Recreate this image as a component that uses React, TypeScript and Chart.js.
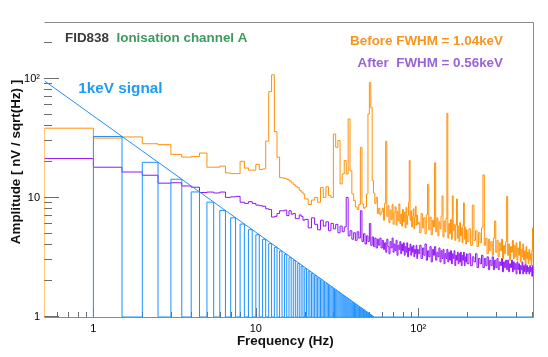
import React, { useEffect, useRef } from 'react';
import { Chart, registerables } from 'chart.js';

Chart.register(...registerables);

const FONT = '"Liberation Sans", Arial, Helvetica, sans-serif';

// ---- spectrum bins (left edges, Hz) ----
const lowFreq = [0.5, 1, 1.5, 2, 2.5, 3, 3.5, 4, 4.5, 5, 5.5, 6, 6.5, 7, 7.5, 8, 8.5, 9, 9.5, 10, 10.5, 11, 11.5, 12, 12.5, 13, 13.5, 14, 14.5, 15, 15.5, 16, 16.5, 17, 17.5, 18, 18.5, 19, 19.5];
const midFreq = [20, 21, 22, 23, 24, 25, 26, 27, 28, 29, 30, 31, 32, 33, 34, 35, 36, 37, 38, 39, 40, 41, 42, 43, 44, 45, 46, 47, 48, 49, 50, 51, 52, 53, 54, 55, 56, 57, 58, 59, 60, 61, 62, 63, 64, 65, 66, 67, 68, 69, 70, 71, 72, 73, 74, 75, 76, 77, 78, 79, 80, 81, 82, 83, 84, 85, 86, 87, 88, 89, 90, 91, 92, 93, 94, 95, 96, 97, 98, 99];
const highFreq = [100, 102, 104, 106, 108, 110, 112, 114, 116, 118, 120, 122, 124, 126, 128, 130, 132, 134, 136, 138, 140, 142, 144, 146, 148, 150, 152, 154, 156, 158, 160, 162, 164, 166, 168, 170, 172, 174, 176, 178, 180, 182, 184, 186, 188, 190, 192, 194, 196, 198,
  200, 205, 210, 215, 220, 225, 230, 235, 240, 245, 250, 255, 260, 265, 270, 275, 280, 285, 290, 295, 300, 305, 310, 315, 320, 325, 330, 335, 340, 345, 350, 355, 360, 365, 370, 375, 380, 385, 390, 395, 400, 405, 410, 415, 420, 425, 430, 435, 440, 445, 450, 455, 460, 465, 470, 475, 480, 485, 490, 495, 500, 505, 510];
const specEnd = 512;
const specFloor = 0.5;

// ---- Before (orange) ----
const beforeLow = [38.5, 31.8, 32.5, 28.5, 28.0, 23.2, 22.0, 22.3, 23.8, 18.1, 18.1, 18.5, 16.2, 16.0, 16.0, 20.3, 17.8, 17.1, 17.1, 19.1, 17.3, 17.5, 30, 78, 108, 36, 22, 14.8, 14.7, 14.6, 14.3, 13.9, 13.4, 12.9, 12.5, 12.2, 11.6, 11.2, 10.8];
const beforeMid = [9.8, 8.8, 9.6, 10.1, 9.2, 12.2, 10.1, 12.4, 10.5, 10.1, 34.4, 26.6, 30.3, 13.1, 15.9, 20.6, 15.9, 46, 16.9, 10.8, 9.5, 8.4, 8.0, 8.8, 26.6, 8.9, 8.2, 8.4, 10.8, 50.5, 93, 57.5, 14.0, 11.0, 9.0, 10.1, 7.4, 8.2, 7.2, 7.6,
  8.2, 6.5, 9.0, 29.9, 7.0, 8.6, 6.2, 7.9, 6.6, 8.8, 6.0, 7.5, 8.4, 5.9, 7.7, 6.4, 8.9, 6.1, 7.3, 5.8, 8.0, 6.3, 7.6, 5.6, 8.3, 6.0, 7.1, 9.2, 20.6, 6.5, 7.8, 5.7, 7.0, 8.1, 5.5, 6.9, 8.5, 5.9, 7.2, 6.0];
const beforeHigh = [6.2, 5.1, 7.4, 5.6, 6.8, 5.0, 7.2, 13.0, 5.4, 6.9, 4.9, 6.5, 5.7, 19.7, 5.2, 6.8, 4.8, 6.3, 5.5, 7.0, 10.4, 4.7, 6.4, 5.2, 6.7, 51.4, 4.6, 6.1, 5.0, 6.6, 4.5, 10.4, 5.3, 6.0, 4.4, 5.9, 9.8, 4.6, 5.8, 4.3, 6.2, 4.8, 5.6, 4.2, 5.9, 9.1, 4.5, 5.7, 4.1, 5.4,
  4.3, 5.5, 4.0, 8.7, 4.4, 5.3, 3.9, 5.1, 4.2, 5.6, 15.6, 4.0, 4.6, 3.4, 4.5, 3.6, 4.3, 3.3, 4.6, 6.4, 3.5, 4.4, 3.2, 4.2, 3.6, 4.5, 3.1, 4.0, 3.4, 4.3, 10.3, 3.3, 4.1, 3.0, 3.9, 3.5, 4.4, 3.1, 4.0, 3.2, 4.2, 3.0, 3.8, 3.3, 4.3, 2.9, 3.7, 3.2, 4.1, 3.0, 3.6, 2.8, 3.9, 3.1, 3.5, 2.8, 3.7, 3.0, 3.4, 2.7, 3.6, 5.6, 2.9];

// ---- After (purple) ----
const afterLow = [21.4, 18.1, 16.5, 15.5, 13.3, 13.4, 12.6, 12.3, 11.1, 11.2, 11.0, 11.2, 10.1, 10.2, 10.3, 9.2, 9.0, 9.3, 9.0, 8.7, 8.6, 8.5, 8.1, 8.0, 6.9, 7.0, 7.4, 7.8, 7.8, 7.9, 7.1, 7.8, 7.3, 7.4, 6.7, 6.7, 7.2, 7.0, 6.5];
const afterMid = [6.6, 5.6, 6.8, 6.0, 5.4, 6.5, 5.8, 6.3, 5.3, 6.1, 5.5, 6.0, 5.1, 5.8, 5.2, 5.7, 10.1, 4.8, 5.3, 4.5, 5.1, 4.4, 5.2, 4.6, 7.8, 4.3, 5.0, 4.1, 4.8, 4.3, 6.1, 4.0, 4.7, 3.9, 4.6, 3.8, 4.5, 4.0, 4.6, 3.8,
  4.4, 3.7, 4.2, 3.5, 4.5, 3.9, 3.4, 4.3, 3.8, 4.6, 3.5, 4.1, 3.6, 4.4, 3.3, 4.0, 3.7, 4.3, 3.4, 4.1, 3.6, 4.2, 3.3, 3.9, 3.5, 4.2, 3.2, 3.8, 3.6, 4.1, 3.3, 3.9, 3.5, 4.0, 3.2, 3.7, 3.4, 4.0, 3.1, 3.7];
const afterHigh = [3.4, 4.0, 3.1, 3.8, 3.3, 4.1, 3.0, 3.6, 3.2, 3.9, 2.9, 3.7, 3.3, 3.9, 3.0, 3.5, 3.2, 3.8, 2.9, 3.6, 3.1, 3.7, 2.8, 3.4, 3.1, 3.7, 2.9, 3.5, 3.0, 3.6, 2.8, 3.4, 3.1, 3.6, 2.7, 3.3, 3.0, 3.5, 2.8, 3.4, 2.9, 3.5, 2.7, 3.3, 3.0, 3.5, 2.7, 3.2, 2.9, 3.4,
  2.8, 3.4, 2.7, 3.2, 2.9, 3.4, 2.6, 3.1, 2.8, 3.3, 2.6, 3.1, 2.7, 3.2, 2.5, 3.0, 2.7, 3.2, 2.5, 3.0, 2.6, 3.1, 2.5, 2.9, 2.7, 3.1, 2.4, 2.9, 2.6, 3.0, 2.5, 3.0, 2.4, 2.8, 2.6, 3.0, 2.4, 2.9, 2.5, 2.8, 2.3, 2.9, 2.5, 2.8, 2.3, 2.7, 2.5, 2.9, 2.3, 2.7, 2.4, 2.8, 2.3, 2.7, 2.4, 2.6, 2.3, 2.7, 2.4, 2.6, 2.2, 2.7, 2.3];

// ---- 1 keV signal (blue) ----
const signalHarmonics = [1, 2, 3, 4, 5, 6, 7, 8, 9, 10, 11, 12, 13, 14, 15, 16, 17, 18, 19, 20, 21, 22, 23, 24, 25, 26, 27, 28, 29, 30, 31, 32, 33, 34, 35, 36, 37, 38, 39, 40, 41, 42, 43, 44, 45, 46, 47, 48, 49, 50, 51, 52, 53];
const signalAmp = [32.8, 19.9, 14.35, 11.22, 9.22, 7.83, 6.81, 6.03, 5.41, 4.90, 4.49, 4.13, 3.84, 3.58, 3.35, 3.15, 2.98, 2.82, 2.68, 2.55, 2.43, 2.33, 2.23, 2.14, 2.06, 1.98, 1.91, 1.85, 1.79, 1.73, 1.68, 1.63, 1.58, 1.53, 1.49, 1.45, 1.41, 1.38, 1.34, 1.31, 1.28, 1.25, 1.22, 1.20, 1.17, 1.15, 1.12, 1.10, 1.08, 1.06, 1.04, 1.02, 1.00];
const signalBinWidth = 0.5;
const signalBase = 1;
const signalLineFreq = [0.5, 53.5];
const signalLineAmp = [96, 1];

// ---- axis ticks ----
const xTickValues = [1, 10, 100];
const xTickLabels = ['1', '10', '10\u00B2'];
const yTickValues = [1, 10, 100];
const yTickLabels = ['1', '10', '10\u00B2'];
const xMinorTicks = [0.6, 0.7, 0.8, 0.9, 2, 3, 4, 5, 6, 7, 8, 9, 20, 30, 40, 50, 60, 70, 80, 90, 200, 300, 400, 500];
const yMinorTicks = [2, 3, 4, 5, 6, 7, 8, 9, 20, 30, 40, 50, 60, 70, 80, 90, 200];

const COL_BEFORE = '#ff9108';
const COL_AFTER = '#9215f5';
const COL_SIGNAL = '#1e90ff';

function histPoints(freqs: number[], amps: number[], closeLeft: boolean) {
  const pts: { x: number; y: number }[] = closeLeft ? [{ x: freqs[0], y: specFloor }] : [];
  for (let i = 0; i < freqs.length; i++) pts.push({ x: freqs[i], y: amps[i] });
  pts.push({ x: specEnd, y: specFloor });
  return pts;
}

function signalPoints() {
  const pts: { x: number; y: number }[] = [{ x: signalHarmonics[0], y: signalBase }];
  for (let i = 0; i < signalHarmonics.length; i++) {
    pts.push({ x: signalHarmonics[i], y: signalAmp[i] });
    pts.push({ x: signalHarmonics[i] + signalBinWidth, y: signalBase });
  }
  pts.push({ x: specEnd, y: signalBase });
  return pts;
}

function labelFor(v: number, vals: number[], labels: string[]) {
  for (let i = 0; i < vals.length; i++) {
    if (Math.abs(v - vals[i]) < 1e-6 * vals[i]) return labels[i];
  }
  return '';
}

const rootDecor = {
  id: 'rootDecor',
  beforeDatasetsDraw(chart: any) {
    const { ctx, chartArea: a, scales } = chart;
    const xs = scales.x;
    const ys = scales.y;
    ctx.save();
    ctx.strokeStyle = '#8a8a8a';
    ctx.lineWidth = 1;
    ctx.beginPath();
    ctx.moveTo(a.left, 22.5);
    ctx.lineTo(533.5, 22.5);
    ctx.lineTo(533.5, 317.5);
    ctx.lineTo(a.left, 317.5);
    ctx.stroke();
    ctx.strokeStyle = '#6e6e6e';
    ctx.beginPath();
    const yTick = (v: number, len: number) => {
      const y = Math.round(ys.getPixelForValue(v)) - 0.5;
      ctx.moveTo(44, y);
      ctx.lineTo(44 + len, y);
    };
    const xTick = (v: number, len: number) => {
      const x = Math.round(xs.getPixelForValue(v)) + 0.5;
      ctx.moveTo(x, 317);
      ctx.lineTo(x, 317 - len);
    };
    yTickValues.forEach((v) => yTick(v, 15));
    yMinorTicks.forEach((v) => yTick(v, 8));
    xTickValues.forEach((v) => xTick(v, 9));
    xMinorTicks.forEach((v) => xTick(v, 5));
    ctx.stroke();
    ctx.restore();
  },
  afterDraw(chart: any) {
    const { ctx } = chart;
    ctx.save();
    ctx.textBaseline = 'middle';
    const bold = (s: number) => `bold ${s}px ${FONT}`;
    ctx.font = bold(13.4);
    ctx.textAlign = 'left';
    ctx.fillStyle = '#3a3a3a';
    ctx.fillText('FID838', 65, 38.5);
    ctx.fillStyle = '#3c9b5e';
    ctx.fillText('Ionisation channel A', 116.5, 38.5);
    ctx.textAlign = 'right';
    ctx.fillStyle = '#f7941d';
    ctx.fillText('Before FWHM = 1.04keV', 503, 41.7);
    ctx.fillStyle = '#9a63d6';
    ctx.fillText('After  FWHM = 0.56keV', 503, 63.3);
    ctx.textAlign = 'left';
    ctx.font = bold(15.3);
    ctx.fillStyle = '#1e9cf2';
    ctx.fillText('1keV signal', 78.3, 88.3);
    ctx.font = bold(13.4);
    ctx.fillStyle = '#111';
    ctx.textAlign = 'center';
    ctx.fillText('Frequency (Hz)', 285.3, 341.7);
    ctx.translate(16.5, 162);
    ctx.rotate(-Math.PI / 2);
    ctx.fillText('Amplitude [ nV / sqrt(Hz) ]', 0, 0);
    ctx.restore();
  },
};

export default function App() {
  const ref = useRef<HTMLCanvasElement | null>(null);
  useEffect(() => {
    if (!ref.current) return;
    const specF = [...lowFreq, ...midFreq, ...highFreq];
    const beforeA = [...beforeLow, ...beforeMid, ...beforeHigh];
    const afterA = [...afterLow, ...afterMid, ...afterHigh];
    const chart = new Chart(ref.current, {
      type: 'line',
      data: {
        datasets: [
          {
            label: 'signal line',
            data: signalLineFreq.map((f, i) => ({ x: f, y: signalLineAmp[i] })),
            borderColor: COL_SIGNAL,
            borderWidth: 1,
            pointRadius: 0,
            fill: false,
            order: 0,
          },
          {
            label: '1keV signal',
            data: signalPoints(),
            borderColor: COL_SIGNAL,
            borderWidth: 1,
            pointRadius: 0,
            fill: false,
            stepped: true,
            order: 1,
          },
          {
            label: 'Before',
            data: histPoints(specF, beforeA, true),
            borderColor: COL_BEFORE,
            borderWidth: 1,
            pointRadius: 0,
            fill: false,
            stepped: true,
            order: 2,
          },
          {
            label: 'After',
            data: histPoints(specF, afterA, false),
            borderColor: COL_AFTER,
            borderWidth: 1,
            pointRadius: 0,
            fill: false,
            stepped: true,
            order: 3,
          },
        ],
      },
      options: {
        responsive: false,
        animation: false,
        devicePixelRatio: 1,
        events: [],
        layout: { padding: { left: 0.5, right: 14.5, top: 22, bottom: 0 } },
        plugins: { legend: { display: false }, tooltip: { enabled: false } },
        scales: {
          x: {
            type: 'logarithmic',
            min: 0.5,
            max: 512,
            grid: { display: false, drawTicks: false },
            border: { display: false },
            ticks: {
              autoSkip: false,
              maxRotation: 0,
              minRotation: 0,
              padding: 5,
              color: '#000',
              font: { family: FONT, size: 11 },
              callback: (v: any) => labelFor(Number(v), xTickValues, xTickLabels),
            },
            afterFit: (s: any) => {
              s.height = 40;
            },
          },
          y: {
            type: 'logarithmic',
            min: 1,
            max: 300,
            grid: { display: false, drawTicks: false },
            border: { display: false },
            ticks: {
              autoSkip: false,
              padding: 4.5,
              color: '#000',
              font: { family: FONT, size: 11 },
              callback: (v: any) => labelFor(Number(v), yTickValues, yTickLabels),
            },
            afterFit: (s: any) => {
              s.width = 44;
            },
          },
        },
      } as any,
      plugins: [rootDecor],
    });
    return () => chart.destroy();
  }, []);
  return (
    <div style={{ position: 'absolute', left: 0, top: 0, width: 548, height: 357, background: '#fff' }}>
      <canvas ref={ref} width={548} height={357} style={{ display: 'block' }} />
    </div>
  );
}
